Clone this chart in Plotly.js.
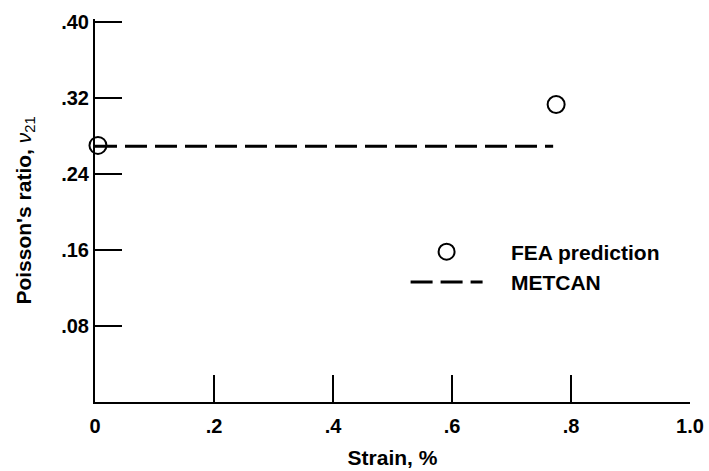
<!DOCTYPE html>
<html>
<head>
<meta charset="utf-8">
<script src="https://cdn.plot.ly/plotly-3.0.1.min.js"></script>
<style>html,body{margin:0;padding:0;background:#fff;}#chart{width:709px;height:471px;}</style>
</head>
<body>
<div id="chart"></div>
<script>
// Data
const feaStrain = [0.005, 0.775];
const feaPoisson = [0.270, 0.313];
const metcanStrain = [0.0, 0.77];
const metcanPoisson = [0.269, 0.269];

const xTickVals = [0, 0.2, 0.4, 0.6, 0.8, 1.0];
const xTickText = ['0', '.2', '.4', '.6', '.8', '1.0'];
const yTickVals = [0.08, 0.16, 0.24, 0.32, 0.40];
const yTickText = ['.08', '.16', '.24', '.32', '.40'];

const FONT = 'Liberation Sans, Arial, sans-serif';
const PAD = '\u00a0\u00a0\u00a0\u00a0';

const traces = [
  {
    x: feaStrain, y: feaPoisson, type: 'scatter', mode: 'markers',
    name: PAD + '<b>FEA prediction</b>', cliponaxis: false,
    marker: {symbol: 'circle-open', size: 17, color: '#000', line: {width: 2, color: '#000'}}
  },
  {
    x: metcanStrain, y: metcanPoisson, type: 'scatter', mode: 'lines',
    name: PAD + '<b>METCAN</b>', cliponaxis: false,
    line: {color: '#000', width: 3, dash: '22px,8px'}
  }
];

const layout = {
  width: 709, height: 471,
  margin: {l: 95, r: 19, t: 19, b: 69},
  paper_bgcolor: '#fff', plot_bgcolor: '#fff',
  font: {family: FONT, size: 20, color: '#000'},
  showlegend: true,
  legend: {
    x: 0.522, y: 0.445, xanchor: 'left', yanchor: 'top',
    bgcolor: 'rgba(0,0,0,0)', borderwidth: 0,
    font: {family: FONT, size: 21, color: '#000'},
    itemwidth: 72
  },
  xaxis: {
    range: [0, 1], showgrid: false, zeroline: false,
    showline: true, linecolor: '#000', linewidth: 2,
    ticks: 'inside', ticklen: 27, tickwidth: 1.5, tickcolor: '#000',
    tickvals: xTickVals, ticktext: xTickText, ticklabelstandoff: 5,
    tickfont: {family: FONT, size: 20, color: '#000', weight: 'bold'},
    title: {text: '<b>Strain, %</b>', font: {family: FONT, size: 21, color: '#000'}, standoff: 14},
    fixedrange: true
  },
  yaxis: {
    range: [0, 0.403], showgrid: false, zeroline: false,
    showline: true, linecolor: '#000', linewidth: 2,
    ticks: 'inside', ticklen: 27, tickwidth: 1.5, tickcolor: '#000',
    tickvals: yTickVals, ticktext: yTickText,
    tickfont: {family: FONT, size: 20, color: '#000', weight: 'bold'},
    title: {text: '<b>Poisson\'s ratio, </b><i>ν</i><sub>21</sub>', font: {family: FONT, size: 21, color: '#000'}, standoff: 24},
    fixedrange: true
  }
};

Plotly.newPlot('chart', traces, layout, {displayModeBar: false, staticPlot: true});
</script>
</body>
</html>
